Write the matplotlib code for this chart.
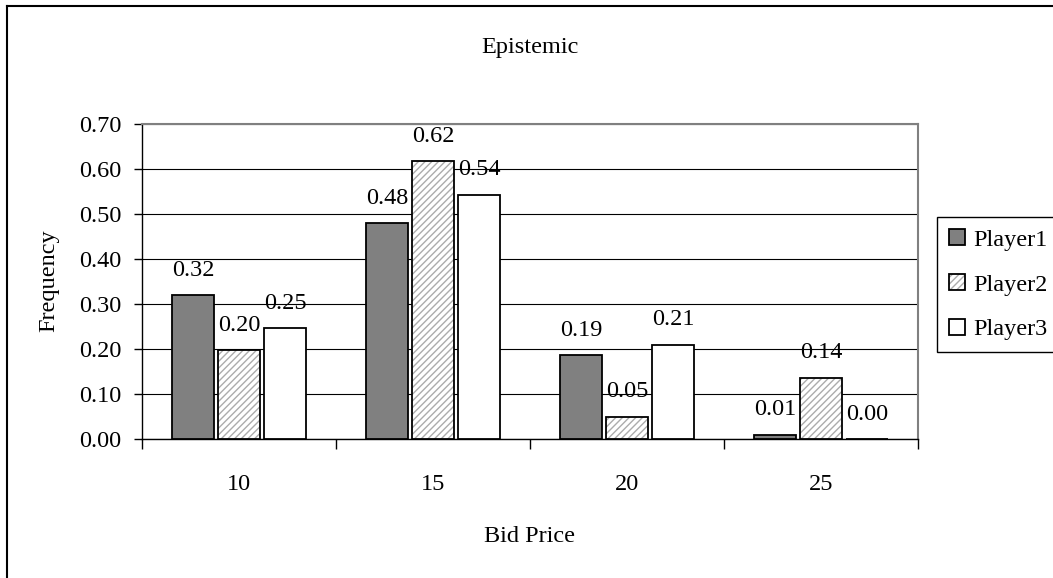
"""
Epistemic bid price frequencies, Excel-style grouped bars.
"""

import matplotlib
matplotlib.use("Agg")
import matplotlib.pyplot as plt
from matplotlib import font_manager
from matplotlib.lines import Line2D
from matplotlib.legend_handler import HandlerTuple
import numpy as np

bid_prices = ["10", "15", "20", "25"]
player1 = [0.32, 0.48, 0.186, 0.01]
player2 = [0.197, 0.617, 0.05, 0.136]
player3 = [0.246, 0.543, 0.21, 0.0]
y_ticks = [0.0, 0.1, 0.2, 0.3, 0.4, 0.5, 0.6, 0.7]

names = {f.name for f in font_manager.fontManager.ttflist}
serif = [n for n in ["Liberation Serif", "Times New Roman", "Nimbus Roman", "DejaVu Serif"] if n in names]
plt.rcParams["font.family"] = "serif"
plt.rcParams["font.serif"] = serif
FS = 17.5
W, H = 1053, 578

fig = plt.figure(figsize=(W / 100, H / 100), dpi=100)
ax = fig.add_axes([142 / W, 1 - 439 / H, (918 - 142) / W, (439 - 124) / H])

x = np.arange(len(bid_prices))
bw = 0.215
step = 0.237

b1 = ax.bar(x - step, player1, bw, color="#808080", edgecolor="black", linewidth=1.3, zorder=3)
b2h = ax.bar(x, player2, bw, color="white", edgecolor="#acacac", linewidth=0, hatch="/////", zorder=3)
b2 = ax.bar(x, player2, bw, fill=False, edgecolor="black", linewidth=1.3, zorder=4)
b3 = ax.bar(x + step, player3, bw, color="white", edgecolor="black", linewidth=1.3, zorder=3)

# value labels above each bar
for xs, vals in [(x - step, player1), (x, player2), (x + step, player3)]:
    for xi, v in zip(xs, vals):
        ax.annotate(f"{v:.2f}", (xi, v), xytext=(0, 14), textcoords="offset points",
                    ha="center", va="baseline", fontsize=FS)

ax.set_xlim(-0.5, len(bid_prices) - 0.5)
ax.set_ylim(0, 0.7)
ax.set_yticks(y_ticks)
ax.set_yticklabels([f"{t:.2f}" for t in y_ticks], fontsize=FS)
ax.tick_params(axis="y", direction="out", length=6, width=1, pad=9)

ax.set_xticks(x)
ax.set_xticklabels(bid_prices, fontsize=FS)
ax.set_xticks(np.arange(len(bid_prices) + 1) - 0.5, minor=True)
ax.tick_params(axis="x", which="major", length=0, pad=25)
ax.tick_params(axis="x", which="minor", direction="out", length=7, width=1)

ax.yaxis.grid(True, color="black", linewidth=0.8, zorder=0)
ax.set_axisbelow(True)
for side in ["top", "right"]:
    ax.spines[side].set_color("#808080")
    ax.spines[side].set_linewidth(1.5)
for side in ["left", "bottom"]:
    ax.spines[side].set_color("black")
    ax.spines[side].set_linewidth(1)

fig.text(530 / W, 1 - 53 / H, "Epistemic", ha="center", va="baseline", fontsize=FS)
fig.text(530 / W, 1 - 537 / H, "Bid Price", ha="center", va="center", fontsize=FS)
fig.text(49 / W, 1 - 281 / H, "Frequency", ha="center", va="center", rotation=90, fontsize=FS)

handles = [b1[0], (b2h[0], b2[0]), b3[0]]
leg = fig.legend(handles, ["Player1", "Player2", "Player3"],
                 handler_map={tuple: HandlerTuple(ndivide=1, pad=0)},
                 loc="upper left", bbox_to_anchor=(937 / W, 1 - 217 / H),
                 fontsize=FS, frameon=True, fancybox=False, framealpha=1,
                 edgecolor="black", handlelength=0.65, handleheight=0.65,
                 handletextpad=0.35, labelspacing=0.95, borderpad=0.5,
                 borderaxespad=0)
leg.get_frame().set_linewidth(1)

# chart area border
fig.add_artist(Line2D([7 / W, 7 / W], [-0.01, 1 - 6 / H], color="black", linewidth=1.5))
fig.add_artist(Line2D([7 / W, 1.01], [1 - 6 / H, 1 - 6 / H], color="black", linewidth=1.5))

plt.savefig("out.png", dpi=100)
plt.close()
